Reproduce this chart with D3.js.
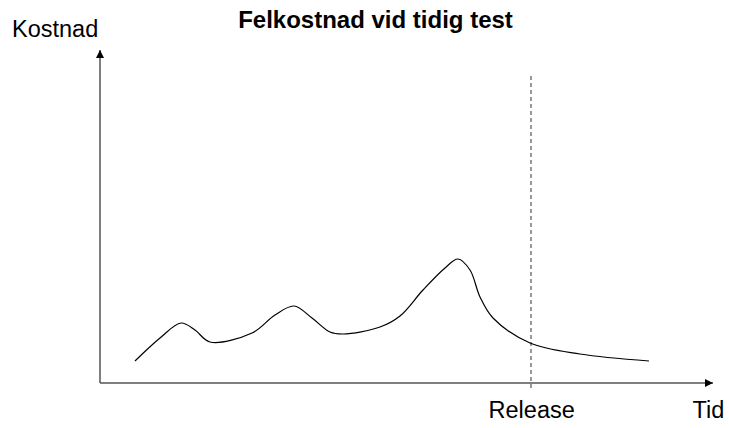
<!DOCTYPE html>
<html><head><meta charset="utf-8">
<script src="https://cdn.jsdelivr.net/npm/d3@7"></script>
<style>body{margin:0;background:#fff}svg{display:block}text{font-family:"Liberation Sans",Arial,sans-serif}</style>
</head><body>
<script>
// Data (time, cost) in arbitrary units
const time = [35,60,81,95,110,152,175,194,212,230,243,280,300,323,345,358,370,380,393,430,480,549];
const cost = [22,45,60,53,41,50,68,77,65,51,49,56,67,93,115,124,113,86,65,40,29,22];
const releaseTime = 431;
const title = "Felkostnad vid tidig test";
const yLabel = "Kostnad";
const xLabel = "Tid";
const releaseLabel = "Release";

const W = 729, H = 428;
const svg = d3.select("body").append("svg").attr("width", W).attr("height", H);

const x = d3.scaleLinear().domain([0, 613]).range([100, 713]);
const y = d3.scaleLinear().domain([0, 333]).range([383, 50]);

const defs = svg.append("defs");
defs.append("marker").attr("id","arr").attr("viewBox","0 0 10 10").attr("refX",10).attr("refY",5)
  .attr("markerWidth",8).attr("markerHeight",8).attr("markerUnits","userSpaceOnUse").attr("orient","auto")
  .append("path").attr("d","M0,0L10,5L0,10Z").attr("fill","#000");

// dashed release line
svg.append("line").attr("x1", x(releaseTime)).attr("x2", x(releaseTime))
  .attr("y1", 76).attr("y2", 390).attr("stroke","#555").attr("stroke-width",1.2).attr("stroke-dasharray","4,3");

// axes
svg.append("line").attr("x1", x(0)).attr("y1", y(0)).attr("x2", x(0)).attr("y2", y(333))
  .attr("stroke","#555").attr("stroke-width",1.5).attr("marker-end","url(#arr)");
svg.append("line").attr("x1", x(0)).attr("y1", y(0)).attr("x2", x(613)).attr("y2", y(0))
  .attr("stroke","#555").attr("stroke-width",1.5).attr("marker-end","url(#arr)");

// curve
const pts = time.map((t,i)=>[t, cost[i]]);
const line = d3.line().x(d=>x(d[0])).y(d=>y(d[1])).curve(d3.curveCatmullRom.alpha(0.5));
svg.append("path").attr("d", line(pts)).attr("fill","none").attr("stroke","#000").attr("stroke-width",1.2);

// texts
svg.append("text").attr("x", 375.5).attr("y", 27.5).attr("text-anchor","middle")
  .attr("font-size", 24).attr("font-weight","bold").text(title);
svg.append("text").attr("x", 12).attr("y", 36.5).attr("font-size", 23.5).text(yLabel);
svg.append("text").attr("x", 531.7).attr("y", 418.3).attr("text-anchor","middle").attr("font-size", 23.5).text(releaseLabel);
svg.append("text").attr("x", 692.5).attr("y", 418.3).attr("font-size", 23.5).text(xLabel);
</script>
</body></html>
